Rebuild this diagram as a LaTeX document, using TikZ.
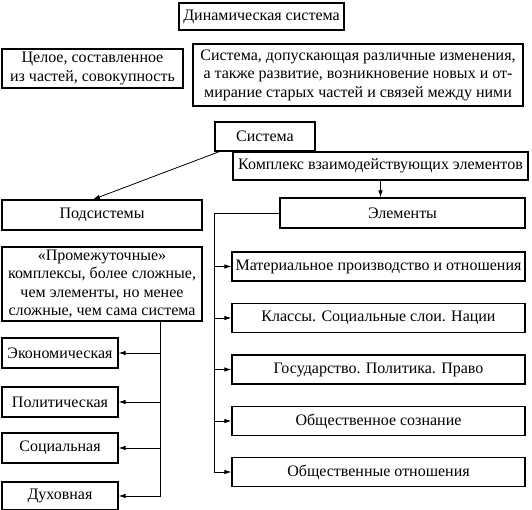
\documentclass[tikz,border=0pt]{standalone}
\usepackage{fontspec}
\setmainfont{Liberation Serif}
\usetikzlibrary{arrows.meta}
\tikzset{
  box/.style={draw, line width=1.2pt, inner sep=0pt, align=center, font=\fontsize{16}{18.5}\selectfont},
  conn/.style={line width=0.8pt},
  arr/.style={conn, -{Latex[length=7pt,width=4.5pt]}},
}
\begin{document}
\begin{tikzpicture}[x=1pt,y=-1pt]
\useasboundingbox (0,0) rectangle (532,510);
\node[box, minimum width=165, minimum height=27] (dyn) at (261.5,16.5) {Динамическая система};
\node[box, minimum width=181, minimum height=39] (whole) at (92.5,68.5) {Целое, составленное\\из частей, совокупность};
\node[box, minimum width=330, minimum height=62] (desc) at (358,75) {Система, допускающая различные изменения,\\а также развитие, возникновение новых и от-\\мирание старых частей и связей между ними};
\node[box, minimum width=100, minimum height=29] (sys) at (265,136.5) {Система};
\node[box, minimum width=295, minimum height=28] (cplx) at (380.5,166) {Комплекс взаимодействующих элементов};
\node[box, minimum width=200, minimum height=30] (sub) at (102,215) {Подсистемы};
\node[box, minimum width=245, minimum height=30] (elem) at (402.5,213) {Элементы};
\node[box, minimum width=200, minimum height=74] (inter) at (102,284) {«Промежуточные»\\комплексы, более сложные,\\чем элементы, но менее\\сложные, чем сама система};
\node[box, minimum width=116, minimum height=30] (eco) at (60,353) {Экономическая};
\node[box, minimum width=116, minimum height=30] (pol) at (60,402) {Политическая};
\node[box, minimum width=116, minimum height=30] (soc) at (60,448) {Социальная};
\node[box, minimum width=116, minimum height=28] (spi) at (60,496) {Духовная};
\node[box, minimum width=293, minimum height=29] (mat) at (378.5,266.5) {Материальное производство и отношения};
\node[box, minimum width=293, minimum height=29] (cls) at (378.5,318) {Классы. Социальные слои. Нации};
\node[box, minimum width=293, minimum height=29] (gos) at (378.5,369.5) {Государство. Политика. Право};
\node[box, minimum width=293, minimum height=29] (con) at (378.5,421) {Общественное сознание};
\node[box, minimum width=293, minimum height=29] (rel) at (378.5,472) {Общественные отношения};
% connectors
\draw[arr] ([xshift=5pt]sys.south west) -- ([xshift=-9pt]sub.north);
\draw[arr] (cplx.south) -- (cplx.south |- elem.north);
\coordinate (ej) at ([xshift=-65pt]elem.west);
\draw[conn] (elem.west) -- (ej);
\foreach \t in {mat,cls,gos,con,rel} \draw[arr] (ej) |- (\t.west);
\coordinate (ij) at ([xshift=-42pt]inter.south east);
\foreach \t in {eco,pol,soc,spi} \draw[arr] (ij) |- (\t.east);
\end{tikzpicture}
\end{document}
